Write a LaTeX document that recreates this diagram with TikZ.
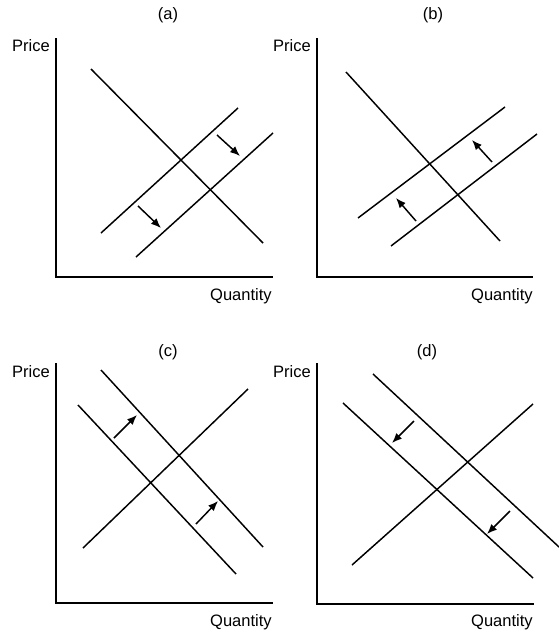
\documentclass[tikz,border=0pt]{standalone}
\usepackage{fontspec}
\setmainfont{Liberation Sans}
\usetikzlibrary{arrows.meta}
\begin{document}
\begin{tikzpicture}[x=0.75pt,y=-0.75pt,
  axis/.style={line width=2.2pt,line join=miter},
  curve/.style={line width=1.1pt},
  shiftarrow/.style={line width=1.1pt,-{Latex[length=7.5pt,width=6pt]}},
  lbl/.style={font=\fontsize{12.4}{14}\selectfont,inner sep=0pt}]
\useasboundingbox (0,0) rectangle (559,632);

% ---------- panel (a)
\node[lbl] (ta) at (168,15) {(a)};
\node[lbl,anchor=east] (pa) at (50,46) {Price};
\node[lbl,anchor=east] (qa) at (272,296) {Quantity};
\coordinate (ay) at (56,38);
\coordinate (ao) at (56,277);
\coordinate (ax) at (273,277);
\draw[axis] (ay) -- (ao) -- (ax);
\coordinate (aD1) at (91,69);   \coordinate (aD2) at (263,243);
\coordinate (aS1) at (101,233); \coordinate (aS2) at (238,108);
\coordinate (aT1) at (136,257); \coordinate (aT2) at (273,133);
\draw[curve] (aD1) -- (aD2);
\draw[curve] (aS1) -- (aS2);
\draw[curve] (aT1) -- (aT2);
\coordinate (aA1) at (217,135); \coordinate (aB1) at (240,156);
\coordinate (aA2) at (138,206); \coordinate (aB2) at (161,228);
\draw[shiftarrow] (aA1) -- (aB1);
\draw[shiftarrow] (aA2) -- (aB2);

% ---------- panel (b)
\node[lbl] (tb) at (433,15) {(b)};
\node[lbl,anchor=east] (pb) at (311,46) {Price};
\node[lbl,anchor=east] (qb) at (533,296) {Quantity};
\coordinate (by) at (317,38);
\coordinate (bo) at (317,277);
\coordinate (bx) at (533,277);
\draw[axis] (by) -- (bo) -- (bx);
\coordinate (bD1) at (346,72);  \coordinate (bD2) at (500,241);
\coordinate (bS1) at (358,218); \coordinate (bS2) at (505,107);
\coordinate (bT1) at (391,246); \coordinate (bT2) at (537,134);
\draw[curve] (bD1) -- (bD2);
\draw[curve] (bS1) -- (bS2);
\draw[curve] (bT1) -- (bT2);
\coordinate (bA1) at (492,162); \coordinate (bB1) at (472,140);
\coordinate (bA2) at (416,221); \coordinate (bB2) at (396,198);
\draw[shiftarrow] (bA1) -- (bB1);
\draw[shiftarrow] (bA2) -- (bB2);

% ---------- panel (c)
\node[lbl] (tc) at (168,352) {(c)};
\node[lbl,anchor=east] (pc) at (50,372) {Price};
\node[lbl,anchor=east] (qc) at (272,622) {Quantity};
\coordinate (cy) at (56,363);
\coordinate (co) at (56,603);
\coordinate (cx) at (273,603);
\draw[axis] (cy) -- (co) -- (cx);
\coordinate (cD1) at (101,370); \coordinate (cD2) at (263,547);
\coordinate (cE1) at (78,405);  \coordinate (cE2) at (236,574);
\coordinate (cS1) at (83,548);  \coordinate (cS2) at (248,389);
\draw[curve] (cD1) -- (cD2);
\draw[curve] (cE1) -- (cE2);
\draw[curve] (cS1) -- (cS2);
\coordinate (cA1) at (114,438); \coordinate (cB1) at (137,415);
\coordinate (cA2) at (196,524); \coordinate (cB2) at (218,501);
\draw[shiftarrow] (cA1) -- (cB1);
\draw[shiftarrow] (cA2) -- (cB2);

% ---------- panel (d)
\node[lbl] (td) at (427,352) {(d)};
\node[lbl,anchor=east] (pd) at (311,372) {Price};
\node[lbl,anchor=east] (qd) at (533,622) {Quantity};
\coordinate (dy) at (317,363);
\coordinate (do) at (317,604);
\coordinate (dx) at (534,604);
\draw[axis] (dy) -- (do) -- (dx);
\coordinate (dD1) at (373,374); \coordinate (dD2) at (559,547);
\coordinate (dE1) at (343,403); \coordinate (dE2) at (533,578);
\coordinate (dS1) at (352,565); \coordinate (dS2) at (533,404);
\draw[curve] (dD1) -- (dD2);
\draw[curve] (dE1) -- (dE2);
\draw[curve] (dS1) -- (dS2);
\coordinate (dA1) at (414,421); \coordinate (dB1) at (392,443);
\coordinate (dA2) at (510,511); \coordinate (dB2) at (487,534);
\draw[shiftarrow] (dA1) -- (dB1);
\draw[shiftarrow] (dA2) -- (dB2);
\end{tikzpicture}
\end{document}
